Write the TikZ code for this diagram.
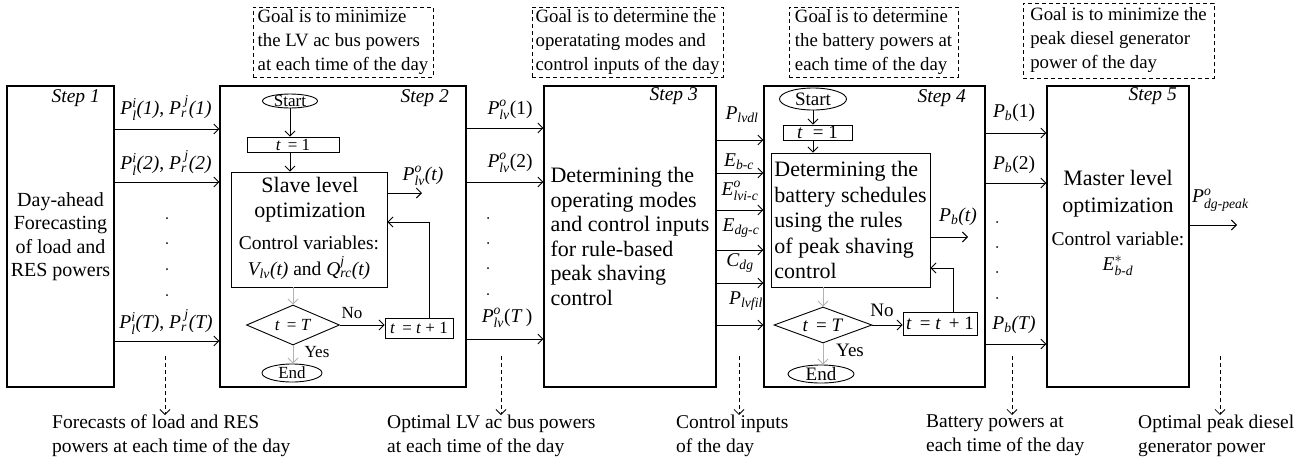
\documentclass[tikz,border=0pt]{standalone}
\usepackage{fontspec}
\usepackage{amsmath}
\setmainfont{Liberation Serif}
\usetikzlibrary{arrows.meta,shapes.geometric,calc}

% font sizes (1 unit = 1pt)
\newcommand{\fnorm}{\fontsize{19.5}{24}\selectfont}
\newcommand{\fbig}{\fontsize{22}{24.5}\selectfont}
\newcommand{\fgoal}{\fontsize{18.8}{24}\selectfont}
\newcommand{\fflow}{\fontsize{17}{20}\selectfont}
\newcommand{\fflowb}{\fontsize{19}{22}\selectfont}
% italic symbol with stacked super- and subscript
\newcommand{\SupSub}[3]{\ensuremath{\textit{#1}^{\textit{#2}}_{\textit{#3}}}}
\newcommand{\Sub}[2]{\ensuremath{\textit{#1}_{\textit{#2}}}}

\tikzset{
  >={Straight Barb[length=5pt,width=10pt]},
  stepbox/.style={draw, line width=1.1pt, inner sep=0pt},
  steplabel/.style={font=\fnorm\itshape, inner sep=0pt, anchor=mid east},
  goalbox/.style={draw, dash pattern=on 4pt off 3pt, line width=0.8pt, align=left,
                  font=\fgoal, inner sep=0pt, minimum height=70pt},
  lbl/.style={font=\fnorm, inner sep=0pt},
  conn/.style={->, line width=0.9pt},
  faint/.style={->, line width=0.9pt, draw=gray!60},
  proc/.style={draw, line width=0.9pt, inner sep=0pt},
  term/.style={draw, ellipse, line width=0.9pt, inner sep=0pt},
  decision/.style={draw, diamond, line width=0.9pt, inner sep=0pt},
  dotmark/.style={circle, fill, inner sep=0pt, minimum size=2pt},
  note/.style={->, dash pattern=on 4pt off 3pt, line width=0.8pt},
  bottomtext/.style={font=\fnorm, align=left, inner sep=0pt, anchor=north west},
}

\begin{document}
\begin{tikzpicture}[x=1pt,y=-1pt]
\useasboundingbox (0,0) rectangle (1309,464);
\fill[white] (0,0) rectangle (1309,464);

% ---------- the five steps ----------
\node[stepbox, minimum width=107, minimum height=301, align=center,
      font=\fontsize{20}{23.5}\selectfont] (s1) at (60.5,236.5)
      {Day-ahead\\Forecasting\\of load and\\RES powers};
\node[stepbox, minimum width=246, minimum height=301] (s2) at (343,236.5) {};
\node[stepbox, minimum width=172, minimum height=301, align=left, font=\fbig] (s3) at (630,236.5)
      {Determining the\\operating modes\\and control inputs\\for rule-based\\peak shaving\\control};
\node[stepbox, minimum width=221, minimum height=301] (s4) at (874.5,236.5) {};
\node[stepbox, minimum width=142, minimum height=301] (s5) at (1118,236.5) {};

\node[steplabel] (s1l) at (100,100) {Step 1};
\node[steplabel] (s2l) at (449,100) {Step 2};
\node[steplabel] (s3l) at (698,98) {Step 3};
\node[steplabel] (s4l) at (966,100) {Step 4};
\node[steplabel] (s5l) at (1177,98) {Step 5};

% ---------- goals ----------
\node[goalbox, minimum width=180] (g2) at (343,42)
      {Goal is to minimize\\the LV ac bus powers\\at each time of the day};
\node[goalbox, minimum width=191] (g3) at (627.5,42)
      {Goal is to determine the\\operatating modes and\\control inputs of the day};
\node[goalbox, minimum width=169] (g4) at (873.5,42)
      {Goal is to determine\\the battery powers at\\each time of the day};
\node[goalbox, minimum width=191, minimum height=75] (g5) at (1118.5,40.5)
      {Goal is to minimize the\\peak diesel generator\\power of the day};

% ---------- step 1 -> step 2 ----------
\draw[conn] (s1.east |- 0,129) -- (s2.west |- 0,129);
\draw[conn] (s1.east |- 0,182) -- (s2.west |- 0,182);
\draw[conn] (s1.east |- 0,341) -- (s2.west |- 0,341);
\node[lbl] (l11) at (166,108) {\SupSub{P}{i}{l}\textit{(1)}, \SupSub{P}{ j}{r}\textit{(1)}};
\node[lbl] (l12) at (166,163) {\SupSub{P}{i}{l}\textit{(2)}, \SupSub{P}{ j}{r}\textit{(2)}};
\node[lbl] (l1T) at (166,322) {\SupSub{P}{i}{l}\textit{(T)}, \SupSub{P}{ j}{r}\textit{(T)}};
\foreach \yy [count=\k] in {218,243,269,295} \node[dotmark] (da\k) at (167,\yy) {};

% ---------- step 2 flowchart ----------
\node[term, minimum width=55, minimum height=14, label={[font=\fflow]center:Start}] (st2) at (290,101) {};
\node[proc, minimum width=92, minimum height=15, font=\fflow] (t12) at (293,144.5) {\textit{t} \,= 1};
\node[proc, minimum width=156, minimum height=115] (sl2) at (309,229.5) {};
\node[font=\fbig, inner sep=0pt, anchor=mid] (sl2a) at (310,190) {Slave level};
\node[font=\fbig, inner sep=0pt, anchor=mid] (sl2b) at (310,215) {optimization};
\node[lbl, anchor=mid] (sl2c) at (309,247) {Control variables:};
\node[lbl, anchor=mid] (sl2d) at (309,273) {\Sub{V}{lv}\textit{(t)} and \SupSub{Q}{j}{rc}\textit{(t)}};
\node[decision, minimum width=93, minimum height=40,
      label={[font=\fflow]center:{\textit{t} \,= \textit{T}}}] (d2) at (293,325) {};
\node[proc, minimum width=68, minimum height=20, font=\fflow] (tt2) at (419,328) {\textit{t} \,= \textit{t} + 1};
\node[term, minimum width=60, minimum height=18, label={[font=\fflow]center:End}] (en2) at (292,373) {};
\node[font=\fflow, inner sep=0pt] (no2) at (352,313) {No};
\node[font=\fflow, inner sep=0pt] (yes2) at (317,352) {Yes};

\draw[conn] (st2.south) -- (st2.south |- t12.north);
\draw[conn] (t12.south -| st2.south) -- (st2.south |- sl2.north);
\draw[faint] (sl2.south -| d2.north) -- (d2.north);
\draw[conn] (d2.east) -- (tt2.west |- d2.east);
\draw[conn] ($(tt2.north)+(10,0)$) |- (sl2.east |- 0,222);
\draw[faint] (d2.south) -- (d2.south |- en2.north);

\coordinate (o2) at (422,193);
\draw[conn] (sl2.east |- o2) -- (o2);
\node[lbl] (lo2) at (423,176) {\SupSub{P}{o}{lv}\textit{(t)}};

% ---------- step 2 -> step 3 ----------
\draw[conn] (s2.east |- 0,128) -- (s3.west |- 0,128);
\draw[conn] (s2.east |- 0,182) -- (s3.west |- 0,182);
\draw[conn] (s2.east |- 0,339) -- (s3.west |- 0,339);
\node[lbl] (l21) at (510,110) {\SupSub{P}{o}{lv}(1)};
\node[lbl] (l22) at (510,163) {\SupSub{P}{o}{lv}(2)};
\node[lbl] (l2T) at (507,318) {\SupSub{P}{o}{lv}(\textit{T}\,)};
\foreach \yy [count=\k] in {218,243,268,294} \node[dotmark] (db\k) at (488,\yy) {};

% ---------- step 3 -> step 4 ----------
\foreach \yy [count=\k] in {140,173,210,250,283,325}
  \draw[conn] (s3.east |- 0,\yy) -- (s4.west |- 0,\yy);
\node[lbl] (l31) at (742,115) {\Sub{P}{lvdl}};
\node[lbl] (l32) at (739,162) {\Sub{E}{b-c}};
\node[lbl] (l33) at (740,191) {\SupSub{E}{o}{lvi-c}};
\node[lbl] (l34) at (741,228) {\Sub{E}{dg-c}};
\node[lbl] (l35) at (740,263) {\Sub{C}{dg}};
\node[lbl] (l36) at (746,301) {\Sub{P}{lvfil}};

% ---------- step 4 flowchart ----------
\node[term, minimum width=67, minimum height=22, label={[font=\fflowb]center:Start}] (st4) at (813,99) {};
\node[proc, minimum width=69, minimum height=15, font=\fflowb] (t14) at (817.5,132.5) {\textit{t} \;= 1};
\node[proc, minimum width=159, minimum height=134, font=\fontsize{22}{25.5}\selectfont, align=left] (det4) at (850.5,220)
      {Determining the\\battery schedules\\using the rules\\of peak shaving\\control};
\node[decision, minimum width=98, minimum height=36,
      label={[font=\fflowb]center:{\textit{t} \,= \textit{T}}}] (d4) at (823,325) {};
\node[proc, minimum width=74, minimum height=23, font=\fflowb] (tt4) at (940,323.5) {\textit{t} \,= \textit{t} \,+ 1};
\node[term, minimum width=66, minimum height=18, label={[font=\fflowb]center:End}] (en4) at (821,374) {};
\node[font=\fflowb, inner sep=0pt] (no4) at (882,310) {No};
\node[font=\fflowb, inner sep=0pt] (yes4) at (850,350) {Yes};

\draw[conn] (st4.south) -- (st4.south |- t14.north);
\draw[conn] (t14.south -| st4.south) -- (st4.south |- det4.north);
\draw[faint] (det4.south -| d4.north) -- (d4.north);
\draw[conn] (d4.east) -- (tt4.west |- d4.east);
\draw[conn] ($(tt4.north)+(13,0)$) |- (det4.east |- 0,268);
\draw[faint] (d4.south) -- (d4.south |- en4.north);

\coordinate (o4) at (968,237);
\draw[conn] (det4.east |- o4) -- (o4);
\node[lbl] (lo4) at (958,217) {\Sub{P}{b}\textit{(t)}};

% ---------- step 4 -> step 5 ----------
\draw[conn] (s4.east |- 0,133) -- (s5.west |- 0,133);
\draw[conn] (s4.east |- 0,183) -- (s5.west |- 0,183);
\draw[conn] (s4.east |- 0,344) -- (s5.west |- 0,344);
\node[lbl] (l41) at (1014,113) {\Sub{P}{b}(1)};
\node[lbl] (l42) at (1014,165) {\Sub{P}{b}(2)};
\node[lbl] (l4T) at (1014,325) {\Sub{P}{b}\textit{(T)}};
\foreach \yy [count=\k] in {222,247,272,298} \node[dotmark] (dc\k) at (997,\yy) {};

% ---------- step 5 ----------
\node[font=\fbig, inner sep=0pt, anchor=mid] (s5a) at (1118,183) {Master level};
\node[font=\fbig, inner sep=0pt, anchor=mid] (s5b) at (1118,210) {optimization};
\node[lbl, anchor=mid] (s5c) at (1118,243) {Control variable:};
\node[lbl, anchor=mid] (s5d) at (1118,268) {$\textit{E}^{*}_{\textit{b-d}}$};

\coordinate (o5) at (1237,225);
\draw[conn] (s5.east |- o5) -- (o5);
\node[lbl, anchor=west] (lo5) at (1192,200) {\SupSub{P}{o}{dg-peak}};

% ---------- results of each step ----------
\node[bottomtext] (b1) at (52,415) {Forecasts of load and RES\\powers at each time of the day};
\node[bottomtext] (b2) at (387,415) {Optimal LV ac bus powers\\at each time of the day};
\node[bottomtext] (b3) at (676,415) {Control inputs\\of the day};
\node[bottomtext] (b4) at (926,415) {Battery powers at\\each time of the day};
\node[bottomtext] (b5) at (1138,415) {Optimal peak diesel\\generator power};

\coordinate (n1) at (165,356);
\coordinate (n2) at (501,356);
\coordinate (n3) at (739,356);
\coordinate (n4) at (1012,356);
\coordinate (n5) at (1220,356);
\draw[note] (n1) -- (n1 |- b1.north);
\draw[note] (n2) -- (n2 |- b2.north);
\draw[note] (n3) -- (n3 |- b3.north);
\draw[note] (n4) -- (n4 |- b4.north);
\draw[note] (n5) -- (n5 |- b5.north);
\end{tikzpicture}
\end{document}
